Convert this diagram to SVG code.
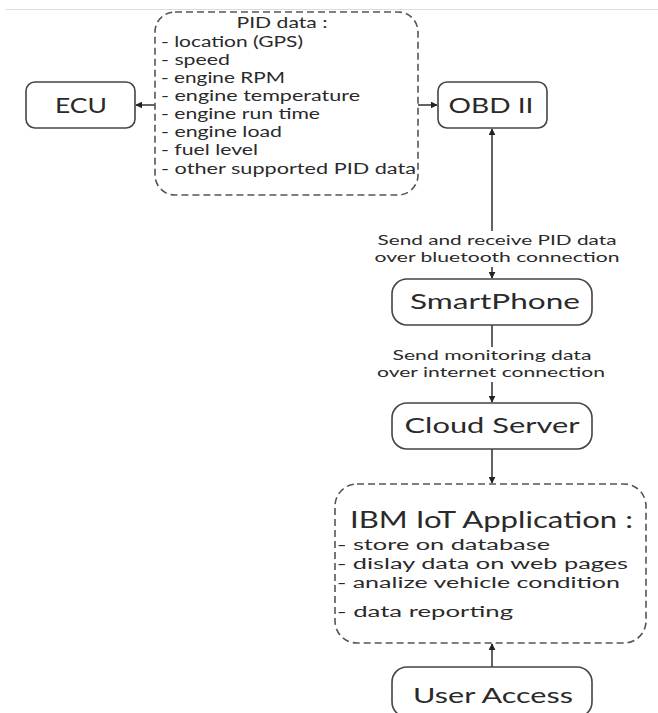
<svg xmlns="http://www.w3.org/2000/svg" width="658" height="713" viewBox="0 0 658 713">
  <style>
    text { font-family: Lato, "Open Sans", "Liberation Sans", sans-serif; fill: #2a2a2a; }
    .box { fill: #fff; stroke: #444; stroke-width: 1.6; }
    .dash { fill: #fff; stroke: #555; stroke-width: 1.6; stroke-dasharray: 7 4; }
    .big { font-size: 22px; text-anchor: middle; }
    .pid { font-size: 14.5px; }
    .lbl { font-size: 13.5px; text-anchor: middle; }
    .app { font-size: 15.5px; }
    .edge { fill: none; stroke: #222; stroke-width: 1.4; }
  </style>
  <defs>
    <marker id="arrow" viewBox="0 0 10 10" refX="9" refY="5" markerWidth="5" markerHeight="5" orient="auto-start-reverse" markerUnits="strokeWidth">
      <path d="M0,0 L10,5 L0,10 z" fill="#222"/>
    </marker>
  </defs>

  <!-- page rule at the top -->
  <line x1="6" y1="9.5" x2="658" y2="9.5" stroke="#dcdcdc" stroke-width="1.2"/>

  <g id="edges">
    <line class="edge" x1="155" y1="105" x2="136" y2="105" marker-end="url(#arrow)"/>
    <line class="edge" x1="418" y1="105" x2="437" y2="105" marker-end="url(#arrow)"/>
    <path class="edge" d="M492,129 V231 M492,267 V278" marker-start="url(#arrow)" marker-end="url(#arrow)"/>
    <path class="edge" d="M492,325 V347 M492,382 V402" marker-end="url(#arrow)"/>
    <line class="edge" x1="492" y1="449" x2="492" y2="483" marker-end="url(#arrow)"/>
    <line class="edge" x1="492" y1="667" x2="492" y2="644" marker-end="url(#arrow)"/>
    <text class="lbl" x="497" y="245" textLength="239" lengthAdjust="spacingAndGlyphs">Send and receive PID data</text>
    <text class="lbl" x="497" y="262" textLength="245" lengthAdjust="spacingAndGlyphs">over bluetooth connection</text>
    <text class="lbl" x="492" y="360" textLength="199" lengthAdjust="spacingAndGlyphs">Send monitoring data</text>
    <text class="lbl" x="491" y="377" textLength="228" lengthAdjust="spacingAndGlyphs">over internet connection</text>
  </g>

  <g id="pid-data">
    <rect class="dash" x="155" y="12" width="263" height="183" rx="20"/>
    <text x="282" y="28" font-size="16" text-anchor="middle" textLength="91" lengthAdjust="spacingAndGlyphs">PID data :</text>
    <text class="pid" x="161" y="47" textLength="142" lengthAdjust="spacingAndGlyphs">- location (GPS)</text>
    <text class="pid" x="161" y="65" textLength="69" lengthAdjust="spacingAndGlyphs">- speed</text>
    <text class="pid" x="161" y="83" textLength="124" lengthAdjust="spacingAndGlyphs">- engine RPM</text>
    <text class="pid" x="161" y="101" textLength="199" lengthAdjust="spacingAndGlyphs">- engine temperature</text>
    <text class="pid" x="161" y="119" textLength="159" lengthAdjust="spacingAndGlyphs">- engine run time</text>
    <text class="pid" x="161" y="137" textLength="121" lengthAdjust="spacingAndGlyphs">- engine load</text>
    <text class="pid" x="161" y="155" textLength="97" lengthAdjust="spacingAndGlyphs">- fuel level</text>
    <text class="pid" x="161" y="174" textLength="255" lengthAdjust="spacingAndGlyphs">- other supported PID data</text>
  </g>

  <g id="ecu">
    <rect class="box" x="26" y="82" width="109" height="46" rx="9"/>
    <text class="big" x="81" y="113" textLength="52" lengthAdjust="spacingAndGlyphs">ECU</text>
  </g>

  <g id="obd">
    <rect class="box" x="438" y="82" width="109" height="46" rx="9"/>
    <text class="big" x="491" y="113" textLength="85" lengthAdjust="spacingAndGlyphs">OBD II</text>
  </g>

  <g id="smartphone">
    <rect class="box" x="392" y="279" width="200" height="46" rx="15"/>
    <text class="big" x="495" y="309" textLength="170" lengthAdjust="spacingAndGlyphs">SmartPhone</text>
  </g>

  <g id="cloud-server">
    <rect class="box" x="392" y="403" width="200" height="46" rx="15"/>
    <text class="big" x="492" y="433" textLength="175" lengthAdjust="spacingAndGlyphs">Cloud Server</text>
  </g>

  <g id="iot-app">
    <rect class="dash" x="335" y="484" width="311" height="159" rx="22"/>
    <text x="350" y="528" font-size="23" textLength="283" lengthAdjust="spacingAndGlyphs">IBM IoT Application :</text>
    <text class="app" x="337" y="550" textLength="213" lengthAdjust="spacingAndGlyphs">- store on database</text>
    <text class="app" x="337" y="569" textLength="291" lengthAdjust="spacingAndGlyphs">- dislay data on web pages</text>
    <text class="app" x="337" y="588" textLength="283" lengthAdjust="spacingAndGlyphs">- analize vehicle condition</text>
    <text class="app" x="337" y="617" textLength="176" lengthAdjust="spacingAndGlyphs">- data reporting</text>
  </g>

  <g id="user-access">
    <rect class="box" x="392" y="667" width="200" height="50" rx="15"/>
    <text class="big" x="493" y="703" textLength="160" lengthAdjust="spacingAndGlyphs">User Access</text>
  </g>
</svg>
